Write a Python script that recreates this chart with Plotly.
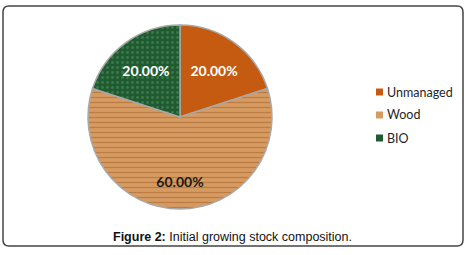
import plotly.graph_objects as go

categories = ["Unmanaged", "Wood", "BIO"]
values = [20, 60, 20]
colors = ["#C55A11", "#D69B62", "#1F5A31"]
pattern_fg = ["#C55A11", "#BC7C44", "#3B7A4B"]
pattern_shapes = ["", "-", "."]
label_colors = ["white", "#1a1a1a", "white"]
caption_bold = "Figure 2:"
caption_rest = " Initial growing stock composition."

W, H = 470, 255

fig = go.Figure()
fig.add_trace(go.Pie(
    labels=categories,
    values=values,
    sort=False,
    direction="clockwise",
    rotation=0,
    marker=dict(
        colors=colors,
        line=dict(color="#A8A8A8", width=1.5),
        pattern=dict(shape=pattern_shapes, fgcolor=pattern_fg, bgcolor=colors,
                     size=5, solidity=0.25, fillmode="replace"),
    ),
    texttemplate=["%{percent:.2%}",
                  "\u00a0<br><span style='font-size:22px'>\u00a0</span><br>%{percent:.2%}",
                  "%{percent:.2%}"],
    textposition="inside",
    insidetextorientation="horizontal",
    textfont=dict(family="Lato", size=14, color=label_colors, weight="bold"),
    domain=dict(x=[(180 - 92) / W, (180 + 92) / W], y=[(138 - 92) / H, (138 + 92) / H]),
    showlegend=False,
    hoverinfo="label+percent",
))

shapes = []
annotations = []
# outer rounded border
x0, y0, x1, y1, r = 3 / W, 1 - 6 / H, 463 / W, 1 - 246 / H, 6
rx, ry = r / W, r / H
path = (f"M{x0+rx},{y0} L{x1-rx},{y0} Q{x1},{y0} {x1},{y0-ry} "
        f"L{x1},{y1+ry} Q{x1},{y1} {x1-rx},{y1} L{x0+rx},{y1} Q{x0},{y1} {x0},{y1+ry} "
        f"L{x0},{y0-ry} Q{x0},{y0} {x0+rx},{y0} Z")
shapes.append(dict(type="path", path=path, xref="paper", yref="paper",
                   line=dict(color="#444444", width=1.5)))

# legend
leg_y = [92, 115, 138]
for name, col, ly in zip(categories, colors, leg_y):
    shapes.append(dict(type="rect", xref="paper", yref="paper",
                       x0=376 / W, x1=383 / W, y0=1 - (ly + 3.5) / H, y1=1 - (ly - 3.5) / H,
                       fillcolor=col, line=dict(width=0)))
    annotations.append(dict(text=name, x=385 / W, y=1 - ly / H, xref="paper", yref="paper",
                            xanchor="left", yanchor="middle", showarrow=False,
                            font=dict(family="Lato", size=12.5, color="#262626")))

annotations.append(dict(text=f"<b>{caption_bold}</b>{caption_rest}", x=232 / W, y=1 - 237 / H,
                        xref="paper", yref="paper", xanchor="center", yanchor="middle",
                        showarrow=False,
                        font=dict(family="Liberation Sans", size=12.5, color="#111111")))

fig.update_layout(
    width=W, height=H,
    margin=dict(l=0, r=0, t=0, b=0),
    paper_bgcolor="white", plot_bgcolor="white",
    shapes=shapes, annotations=annotations,
)
fig.write_html("out.html", config={"displayModeBar": False},
               post_script="document.body.style.margin='0';document.body.style.overflow='hidden';")
